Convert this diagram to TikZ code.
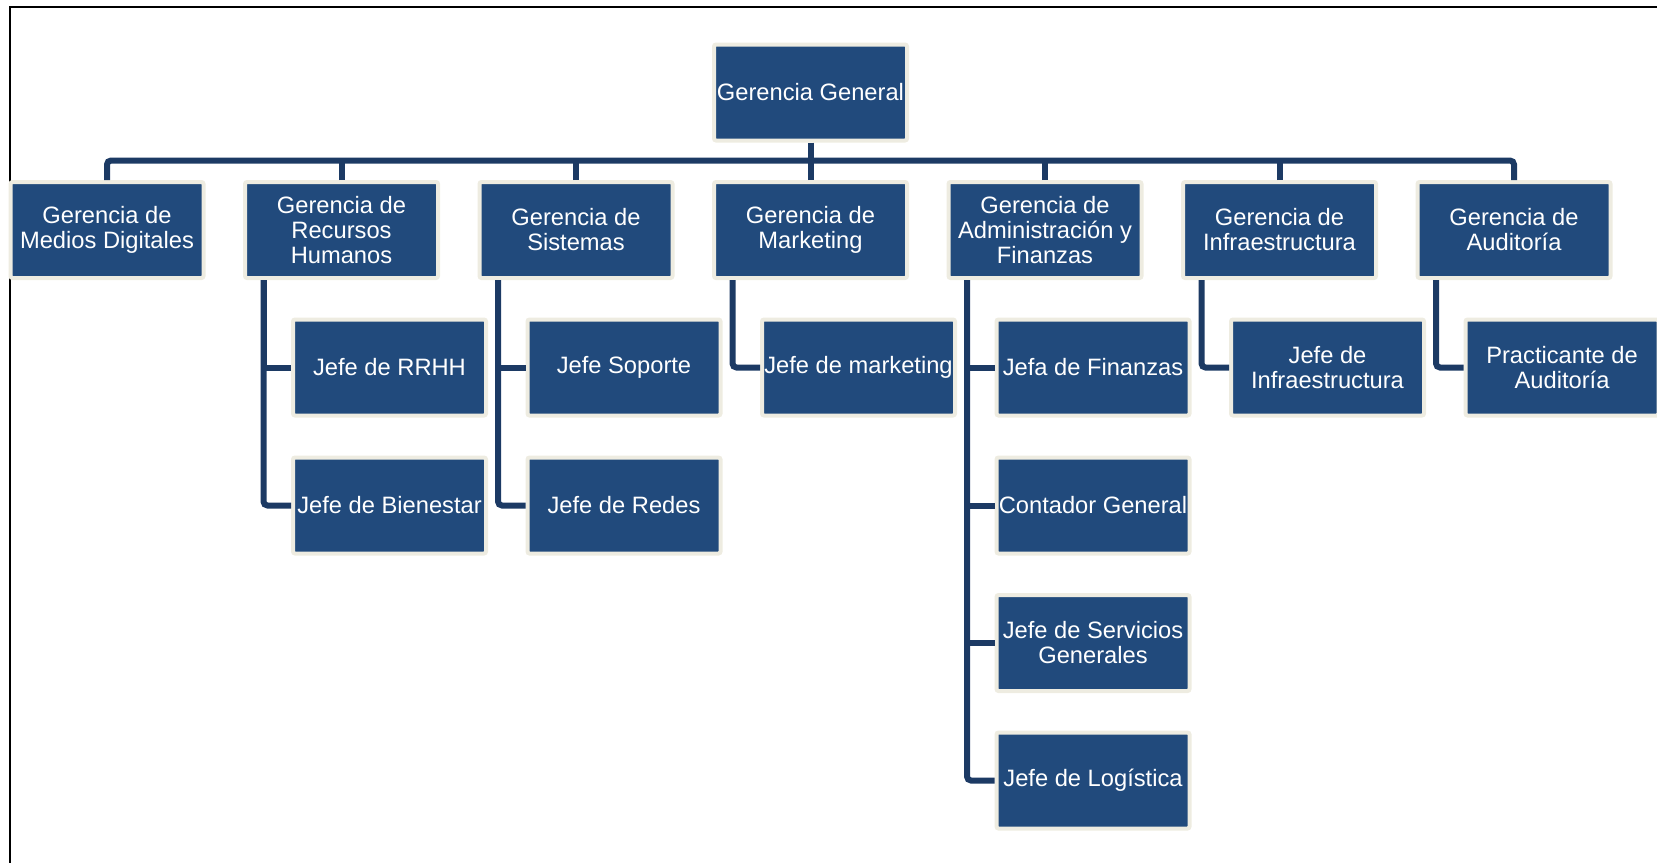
\documentclass[tikz,border=0pt]{standalone}
\usepackage{fontspec}
\setmainfont{Liberation Sans}
\usetikzlibrary{calc}
\definecolor{boxblue}{HTML}{214A7C}
\definecolor{cream}{HTML}{EEECE1}
\definecolor{connblue}{HTML}{1C3A64}
\begin{document}
\begin{tikzpicture}[x=0.5pt,y=-0.5pt,
  orgbox/.style={draw=cream,fill=boxblue,line width=2pt,rounded corners=1pt,
    minimum width=96.5pt,minimum height=48pt,inner sep=0pt,align=center,
    text=white,font=\fontsize{11.85pt}{12.5pt}\selectfont},
  conn/.style={draw=connblue,line width=3pt},
  frame/.style={draw=black,line width=1pt}]
\useasboundingbox (0,0) rectangle (1657,862);
\draw[frame] (10,870) -- (10,6.7) -- (1670,6.7);
% top
\node[orgbox] (gg) at (810.5,92.5) {Gerencia General};
% managers
\node[orgbox] (m1) at (107,230) {Gerencia de\\Medios Digitales};
\node[orgbox] (m2) at (341.5,230) {Gerencia de\\Recursos\\Humanos};
\node[orgbox] (m3) at (576,230) {Gerencia de\\Sistemas};
\node[orgbox] (m4) at (810.5,230) {Gerencia de\\Marketing};
\node[orgbox] (m5) at (1045,230) {Gerencia de\\Administración y\\Finanzas};
\node[orgbox] (m6) at (1279.5,230) {Gerencia de\\Infraestructura};
\node[orgbox] (m7) at (1514,230) {Gerencia de\\Auditoría};
% children
\node[orgbox] (c21) at (389.5,367.5) {Jefe de RRHH};
\node[orgbox] (c22) at (389.5,505.5) {Jefe de Bienestar};
\node[orgbox] (c31) at (624,367.5) {Jefe Soporte};
\node[orgbox] (c32) at (624,505.5) {Jefe de Redes};
\node[orgbox] (c41) at (858.5,367.5) {Jefe de marketing};
\node[orgbox] (c51) at (1093,367.5) {Jefa de Finanzas};
\node[orgbox] (c52) at (1093,505.5) {Contador General};
\node[orgbox] (c53) at (1093,643) {Jefe de Servicios\\Generales};
\node[orgbox] (c54) at (1093,780.5) {Jefe de Logística};
\node[orgbox] (c61) at (1327.5,367.5) {Jefe de\\Infraestructura};
\node[orgbox] (c71) at (1562,367.5) {Practicante de\\Auditoría};
% bus
\coordinate (busmid) at ($(gg.south)+(0,18)$);
\draw[conn] (gg.south) -- (busmid);
\draw[conn,rounded corners=2pt] (m1.north) |- (busmid) -| (m7.north);
\foreach \m in {m2,m3,m4,m5,m6}{
  \draw[conn] (\m.north) -- (\m.north |- busmid);
}
% child connectors
\draw[conn,rounded corners=2pt] ($(m2.south)+(-78,0)$) |- (c22.west);
\draw[conn] ($(m2.south)+(-78,0)$) |- (c21.west);
\draw[conn,rounded corners=2pt] ($(m3.south)+(-78,0)$) |- (c32.west);
\draw[conn] ($(m3.south)+(-78,0)$) |- (c31.west);
\draw[conn,rounded corners=2pt] ($(m4.south)+(-78,0)$) |- (c41.west);
\draw[conn,rounded corners=2pt] ($(m5.south)+(-78,0)$) |- (c54.west);
\draw[conn] ($(m5.south)+(-78,0)$) |- (c51.west);
\draw[conn] ($(m5.south)+(-78,0)$) |- (c52.west);
\draw[conn] ($(m5.south)+(-78,0)$) |- (c53.west);
\draw[conn,rounded corners=2pt] ($(m6.south)+(-78,0)$) |- (c61.west);
\draw[conn,rounded corners=2pt] ($(m7.south)+(-78,0)$) |- (c71.west);
\end{tikzpicture}
\end{document}
